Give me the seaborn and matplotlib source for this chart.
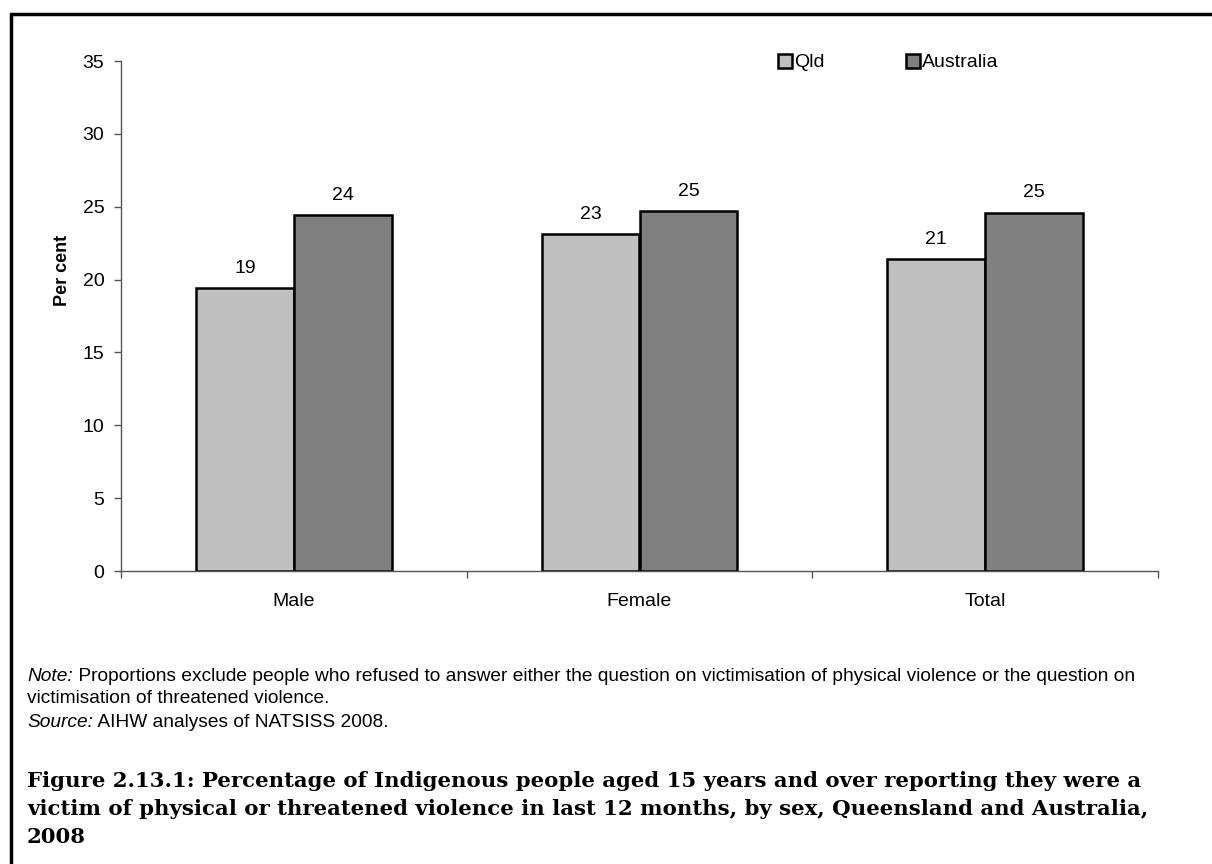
import pandas as pd
import matplotlib.pyplot as plt
import seaborn as sns
from matplotlib.lines import Line2D

sexes = ["Male", "Female", "Total"]
qld = [19.4, 23.1, 21.4]
australia = [24.4, 24.7, 24.6]
regions = ["Qld", "Australia"]
colors = {"Qld": "#c0c0c0", "Australia": "#808080"}

title_lines = [
    "Figure 2.13.1: Percentage of Indigenous people aged 15 years and over reporting they were a",
    "victim of physical or threatened violence in last 12 months, by sex, Queensland and Australia,",
    "2008",
]

df = pd.DataFrame({
    "sex": sexes * 2,
    "region": ["Qld"] * 3 + ["Australia"] * 3,
    "value": qld + australia,
})

sns.set_style("white")
plt.rcParams["font.family"] = ["Liberation Sans", "DejaVu Sans"]
plt.rcParams["text.color"] = "black"
plt.rcParams["axes.labelcolor"] = "black"
plt.rcParams["xtick.color"] = "black"
plt.rcParams["ytick.color"] = "black"

W, H = 1212, 864
fig = plt.figure(figsize=(W / 100, H / 100), dpi=100)
ax = fig.add_axes([121 / W, 1 - 571 / H, (1158 - 121) / W, (571 - 61) / H])

sns.barplot(data=df, x="sex", y="value", hue="region", order=sexes, hue_order=regions,
            palette=colors, width=0.567, gap=0, edgecolor="black", linewidth=1.8,
            saturation=1, ax=ax, legend=False)

for c in ax.containers:
    ax.bar_label(c, fmt="%.0f", padding=8, fontsize=14)

ax.set_ylim(0, 35)
ax.set_yticks(range(0, 36, 5))
ax.set_xlim(-0.5, 2.5)
ax.set_xlabel("")
ax.set_ylabel("Per cent", fontsize=13, fontweight="bold")
ax.yaxis.set_label_coords(-0.048, 0.59)
ax.tick_params(axis="y", labelsize=14, left=True, length=5, width=1, color="#555555", pad=7)
ax.tick_params(axis="x", labelsize=14, bottom=False, pad=12)
# category boundary ticks on the x axis
ax.set_xticks([-0.5, 0.5, 1.5, 2.5], minor=True)
ax.tick_params(axis="x", which="minor", bottom=True, length=5, width=1, color="#555555")
for s in ["top", "right"]:
    ax.spines[s].set_visible(False)
for s in ["left", "bottom"]:
    ax.spines[s].set_color("#555555")
    ax.spines[s].set_linewidth(1)

handles = [Line2D([], [], marker="s", linestyle="", markersize=10, markerfacecolor=colors[r],
                  markeredgecolor="black", markeredgewidth=1.8) for r in regions]
ax.legend(handles, regions, ncol=2, frameon=False, loc="center", bbox_to_anchor=(0.74, 0.997),
          fontsize=14, handlelength=0.7, handletextpad=0.1, columnspacing=4.2)

# outer frame
fig.add_artist(Line2D([11 / W, 11 / W], [0, 1 - 14 / H], color="black", lw=2.5,
                      transform=fig.transFigure))
fig.add_artist(Line2D([11 / W, 1], [1 - 14 / H, 1 - 14 / H], color="black", lw=2.5,
                      transform=fig.transFigure))

# notes
x0 = 27 / W
fs = 13.8
renderer = fig.canvas.get_renderer()
t = fig.text(x0, 1 - 681 / H, "Note:", fontsize=fs, style="italic", va="baseline")
w = t.get_window_extent(renderer).width / W
fig.text(x0 + w, 1 - 681 / H,
         " Proportions exclude people who refused to answer either the question on victimisation of physical violence or the question on",
         fontsize=fs, va="baseline")
fig.text(x0, 1 - 703 / H, "victimisation of threatened violence.", fontsize=fs, va="baseline")
t = fig.text(x0, 1 - 727 / H, "Source:", fontsize=fs, style="italic", va="baseline")
w = t.get_window_extent(renderer).width / W
fig.text(x0 + w, 1 - 727 / H, " AIHW analyses of NATSISS 2008.", fontsize=fs, va="baseline")

for i, line in enumerate(title_lines):
    fig.text(x0, 1 - (787 + 28 * i) / H, line, fontsize=15.3, fontweight="bold",
             family=["DejaVu Serif"], va="baseline")

fig.savefig("out.png", dpi=100)
